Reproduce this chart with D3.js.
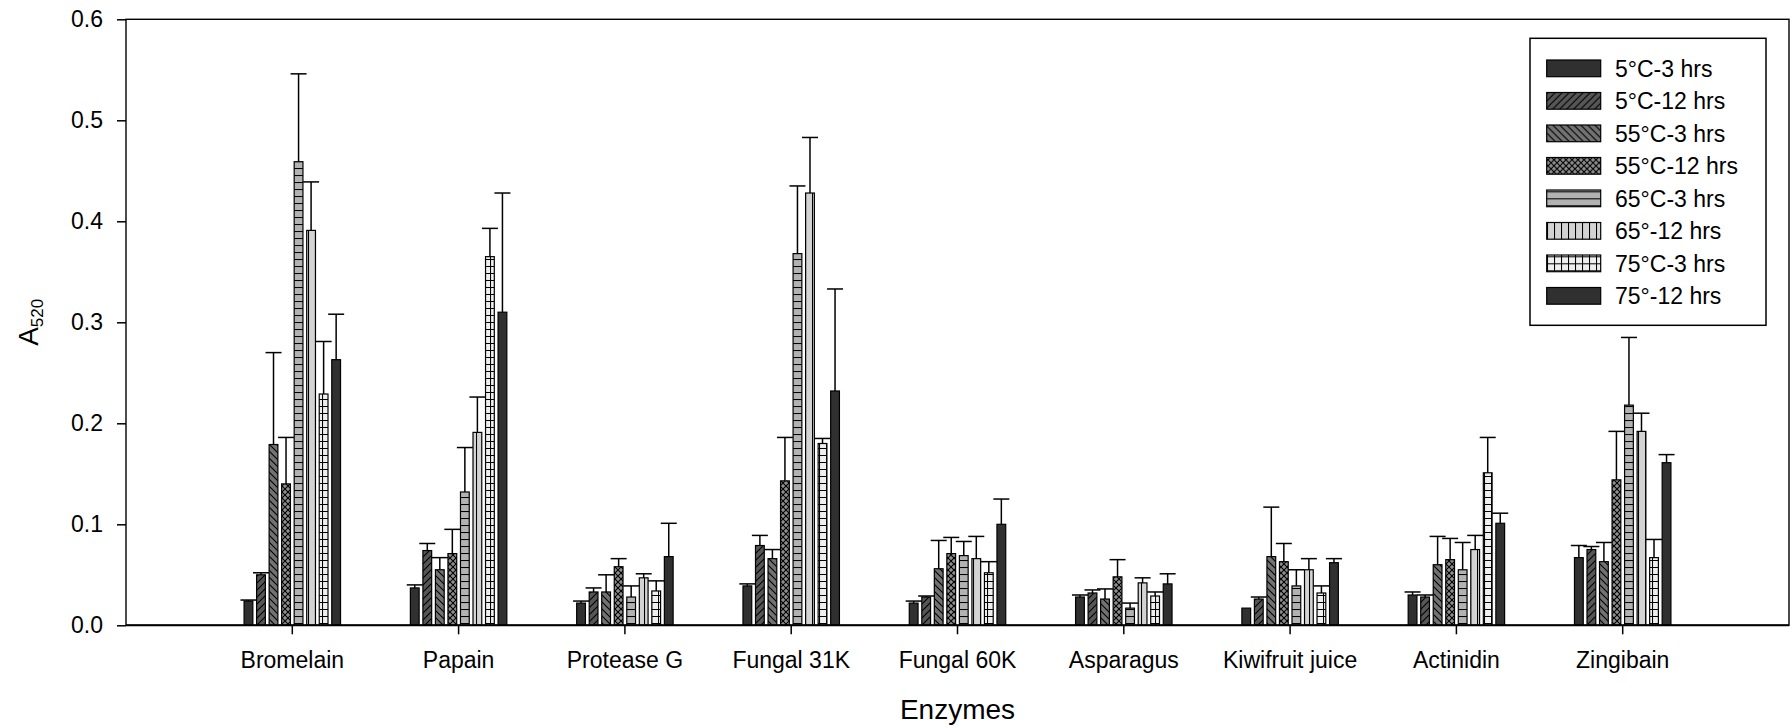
<!DOCTYPE html>
<html>
<head>
<meta charset="utf-8">
<script src="https://cdn.jsdelivr.net/npm/d3@7"></script>
<style>
  body { margin: 0; background: #fff; }
  text { font-family: Arial, "Liberation Sans", Helvetica, sans-serif; fill: #000; }
</style>
</head>
<body>
<svg id="chart" width="1792" height="728"></svg>
<script>
// Enzyme categories along the x axis
const categories = ["Bromelain", "Papain", "Protease G", "Fungal 31K", "Fungal 60K",
                    "Asparagus", "Kiwifruit juice", "Actinidin", "Zingibain"];

// Treatment series (legend order)
const seriesNames = ["5°C-3 hrs", "5°C-12 hrs", "55°C-3 hrs", "55°C-12 hrs",
                     "65°C-3 hrs", "65°-12 hrs", "75°C-3 hrs", "75°-12 hrs"];

// Mean A520 per series, one value per enzyme
const t5C3h   = [0.024, 0.037, 0.022, 0.039, 0.022, 0.028, 0.017, 0.030, 0.067];
const t5C12h  = [0.050, 0.074, 0.033, 0.079, 0.028, 0.032, 0.026, 0.028, 0.075];
const t55C3h  = [0.179, 0.055, 0.033, 0.066, 0.056, 0.026, 0.068, 0.060, 0.063];
const t55C12h = [0.140, 0.071, 0.058, 0.143, 0.071, 0.048, 0.063, 0.065, 0.144];
const t65C3h  = [0.459, 0.132, 0.028, 0.368, 0.069, 0.017, 0.039, 0.055, 0.218];
const t65C12h = [0.391, 0.191, 0.047, 0.428, 0.066, 0.042, 0.055, 0.075, 0.192];
const t75C3h  = [0.229, 0.365, 0.034, 0.180, 0.052, 0.029, 0.032, 0.151, 0.067];
const t75C12h = [0.263, 0.310, 0.068, 0.232, 0.100, 0.041, 0.062, 0.101, 0.161];

// Upper error (standard deviation) per series
const e5C3h   = [0.001, 0.003, 0.002, 0.002, 0.002, 0.002, 0.000, 0.003, 0.012];
const e5C12h  = [0.002, 0.007, 0.004, 0.010, 0.001, 0.003, 0.002, 0.002, 0.003];
const e55C3h  = [0.091, 0.012, 0.017, 0.009, 0.028, 0.010, 0.049, 0.028, 0.019];
const e55C12h = [0.046, 0.024, 0.008, 0.043, 0.016, 0.017, 0.018, 0.021, 0.048];
const e65C3h  = [0.087, 0.044, 0.011, 0.067, 0.014, 0.005, 0.016, 0.027, 0.067];
const e65C12h = [0.048, 0.035, 0.004, 0.055, 0.022, 0.005, 0.011, 0.014, 0.018];
const e75C3h  = [0.052, 0.028, 0.010, 0.005, 0.011, 0.004, 0.007, 0.035, 0.018];
const e75C12h = [0.045, 0.118, 0.033, 0.101, 0.025, 0.010, 0.004, 0.010, 0.008];

const yTicks = [0.0, 0.1, 0.2, 0.3, 0.4, 0.5, 0.6];

const means = [t5C3h, t5C12h, t55C3h, t55C12h, t65C3h, t65C12h, t75C3h, t75C12h];
const errs  = [e5C3h, e5C12h, e55C3h, e55C12h, e65C3h, e65C12h, e75C3h, e75C12h];

const svg = d3.select("#chart");
const plot = { left: 126, right: 1789, top: 19.3, bottom: 625.3 };

const x0 = d3.scaleBand().domain(categories)
  .range([plot.left, plot.right]).paddingInner(0.42).paddingOuter(0.71);
const x1 = d3.scaleBand().domain(seriesNames)
  .range([0, x0.bandwidth()]).paddingInner(0.3);
const y = d3.scaleLinear().domain([0, 0.6]).range([plot.bottom, plot.top]);

// ---- fill patterns ----
const defs = svg.append("defs");
function pattern(id, w, h, bg, paths, sw) {
  const p = defs.append("pattern").attr("id", id)
    .attr("patternUnits", "userSpaceOnUse").attr("width", w).attr("height", h);
  p.append("rect").attr("width", w).attr("height", h).attr("fill", bg);
  if (paths) p.append("path").attr("d", paths).attr("stroke", "#000")
    .attr("stroke-width", sw || 1).attr("fill", "none");
}
pattern("p0", 7, 7, "#303030", null);
pattern("p1", 7, 7, "#565656", "M-1,8 L8,-1 M-1,1 L1,-1 M6,8 L8,6", 1.1);
pattern("p2", 7, 7, "#727272", "M-1,-1 L8,8 M-1,6 L1,8 M6,-1 L8,1", 1.1);
pattern("p3", 6, 6, "#8e8e8e", "M-1,7 L7,-1 M-1,-1 L7,7", 1.1);
pattern("p4", 7, 7, "#b2b2b2", "M0,0.5 L7,0.5", 1.1);
pattern("p5", 7, 7, "#d3d3d3", "M0.5,0 L0.5,7", 1.1);
pattern("p6", 7, 7, "#efefef", "M0,0.5 L7,0.5 M0.5,0 L0.5,7", 1.1);
pattern("p7", 7, 7, "#303030", null);
const fills = seriesNames.map((s, i) => `url(#p${i})`);

// ---- axes ----
const yAxis = svg.append("g").attr("transform", `translate(${plot.left},0)`)
  .call(d3.axisLeft(y).tickValues(yTicks).tickFormat(d3.format(".1f"))
    .tickSize(9).tickSizeOuter(0).tickPadding(14));
yAxis.select(".domain").remove();
yAxis.selectAll(".tick line").attr("stroke", "#000").attr("stroke-width", 1.5);
yAxis.selectAll("text").style("font-size", "23px");

const xAxis = svg.append("g").attr("transform", `translate(0,${plot.bottom})`)
  .call(d3.axisBottom(x0).tickSize(9).tickSizeOuter(0).tickPadding(17));
xAxis.select(".domain").remove();
xAxis.selectAll(".tick line").attr("stroke", "#000").attr("stroke-width", 1.5);
xAxis.selectAll("text").style("font-size", "23px");

// ---- bars ----
const rows = [];
categories.forEach((c, ci) => seriesNames.forEach((s, si) => {
  rows.push({ cat: c, series: s, si, v: means[si][ci], e: errs[si][ci] });
}));

const bars = svg.append("g");
bars.selectAll("rect").data(rows).join("rect")
  .attr("x", d => x0(d.cat) + x1(d.series))
  .attr("y", d => y(d.v))
  .attr("width", x1.bandwidth())
  .attr("height", d => y(0) - y(d.v))
  .attr("fill", d => fills[d.si])
  .attr("stroke", "#000").attr("stroke-width", 1.2);

// ---- error bars (upper only) ----
const eb = svg.append("g").attr("stroke", "#000").attr("stroke-width", 1.5);
const withErr = rows.filter(d => d.e > 0);
const cx = d => x0(d.cat) + x1(d.series) + x1.bandwidth() / 2;
eb.selectAll("line.stem").data(withErr).join("line").attr("class", "stem")
  .attr("x1", cx).attr("x2", cx)
  .attr("y1", d => y(d.v)).attr("y2", d => y(d.v + d.e));
eb.selectAll("line.cap").data(withErr).join("line").attr("class", "cap")
  .attr("x1", d => cx(d) - 8).attr("x2", d => cx(d) + 8)
  .attr("y1", d => y(d.v + d.e)).attr("y2", d => y(d.v + d.e));

// ---- frame ----
svg.append("rect")
  .attr("x", plot.left).attr("y", plot.top)
  .attr("width", plot.right - plot.left).attr("height", plot.bottom - plot.top)
  .attr("fill", "none").attr("stroke", "#000").attr("stroke-width", 1.4);
svg.append("line")
  .attr("x1", plot.left).attr("x2", plot.right)
  .attr("y1", plot.bottom).attr("y2", plot.bottom)
  .attr("stroke", "#000").attr("stroke-width", 2);

// ---- axis titles ----
svg.append("text").attr("x", (plot.left + plot.right) / 2).attr("y", 719)
  .attr("text-anchor", "middle").style("font-size", "28px").text("Enzymes");

const yt = svg.append("text")
  .attr("transform", `translate(38,${(plot.top + plot.bottom) / 2}) rotate(-90)`)
  .attr("text-anchor", "middle");
yt.append("tspan").style("font-size", "28px").text("A");
yt.append("tspan").style("font-size", "17px").attr("dy", 5).text("520");

// ---- legend ----
const lg = svg.append("g");
lg.append("rect").attr("x", 1530).attr("y", 38.3).attr("width", 236).attr("height", 287)
  .attr("fill", "#fff").attr("stroke", "#000").attr("stroke-width", 1.5);
const items = lg.selectAll("g.item").data(seriesNames).join("g").attr("class", "item")
  .attr("transform", (d, i) => `translate(0,${68.3 + i * 32.5})`);
items.append("rect").attr("x", 1546.7).attr("y", -8.3).attr("width", 54).attr("height", 16.7)
  .attr("fill", (d, i) => fills[i]).attr("stroke", "#000").attr("stroke-width", 1.2);
items.append("text").attr("x", 1615).attr("y", 0).attr("dy", "0.36em")
  .style("font-size", "23px").text(d => d);
</script>
</body>
</html>
